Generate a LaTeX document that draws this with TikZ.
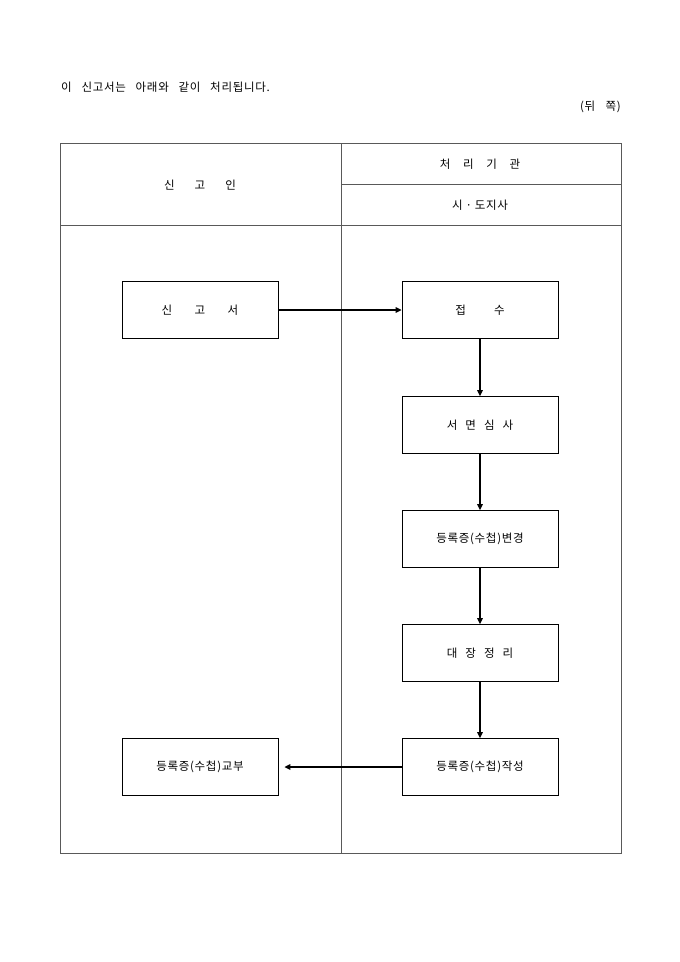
\documentclass[tikz,border=0pt]{standalone}
\usepackage{fontspec}
\setmainfont[LetterSpace=6]{Noto Sans CJK KR}
\usetikzlibrary{arrows.meta}
\begin{document}
\begin{tikzpicture}[x=1pt,y=-1pt,
  every node/.style={font=\fontsize{11.5}{13}\selectfont, inner sep=0pt},
  grid/.style={draw=black!65, line width=0.8pt},
  flowbox/.style={draw=black, line width=0.7pt, minimum width=156pt, minimum height=57pt},
  flowarrow/.style={draw=black, line width=1.6pt, -{Triangle[length=6pt,width=5.5pt]}}]
\useasboundingbox[fill=white] (0,0) rectangle (680,962);
% header text
\node[anchor=west] (title) at (61,87) {이\hspace{0.85em}신고서는\hspace{0.85em}아래와\hspace{0.85em}같이\hspace{0.85em}처리됩니다.};
\node[anchor=east] (side) at (621,107) {(뒤\hspace{0.9em}쪽)};
% table
\draw[grid] (60,143) rectangle (621,853);
\draw[grid] (341,143) -- (341,853);
\draw[grid] (60,225) -- (621,225);
\draw[grid] (341,184) -- (621,184);
\node (h1) at (200,185) {신\hspace{1.75em}고\hspace{1.75em}인};
\node (h2) at (480,164) {처\hspace{1.1em}리\hspace{1.1em}기\hspace{1.1em}관};
\node (h3) at (480,205) {시\hspace{0.25em}·\hspace{0.25em}도지사};
% boxes
\node[flowbox] (a) at (200,310) {신\hspace{1.95em}고\hspace{1.95em}서};
\node[flowbox] (b) at (480,310) {접\hspace{2.45em}수};
\node[flowbox] (c) at (480,425) {서\hspace{0.7em}면\hspace{0.7em}심\hspace{0.7em}사};
\node[flowbox] (d) at (480,539) {등록증(수첩)변경};
\node[flowbox] (e) at (480,653) {대\hspace{0.7em}장\hspace{0.7em}정\hspace{0.7em}리};
\node[flowbox] (f) at (480,767) {등록증(수첩)작성};
\node[flowbox] (g) at (200,767) {등록증(수첩)교부};
% arrows
\draw[flowarrow] (a.east) -- (b.west);
\draw[flowarrow] (b.south) -- (c.north);
\draw[flowarrow] (c.south) -- (d.north);
\draw[flowarrow] (d.south) -- (e.north);
\draw[flowarrow] (e.south) -- (f.north);
\draw[flowarrow] (f.west) -- ([xshift=6pt]g.east);
\end{tikzpicture}
\end{document}
